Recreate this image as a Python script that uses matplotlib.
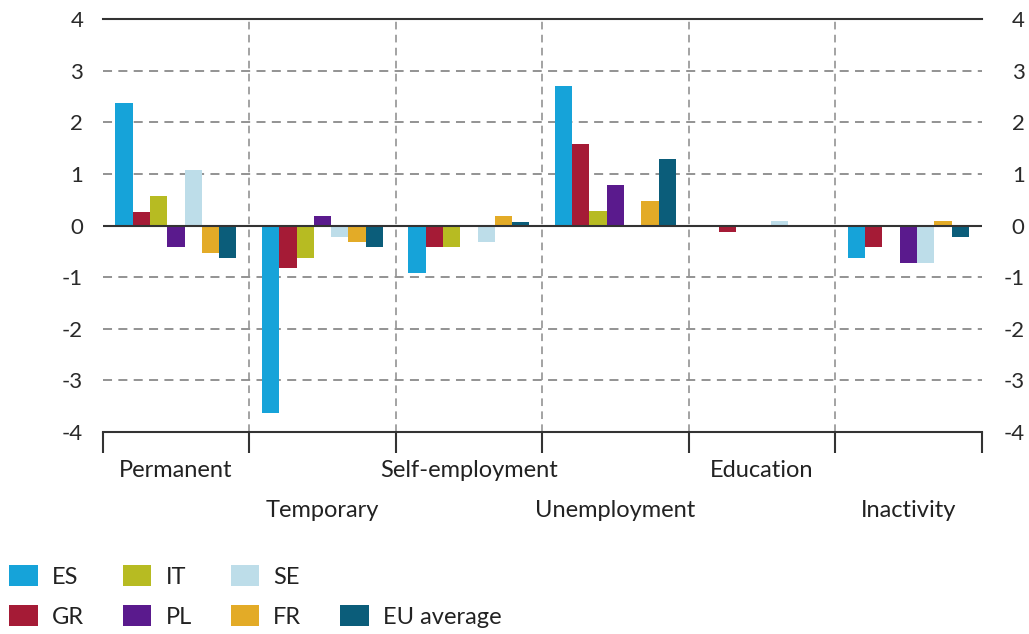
import numpy as np
import matplotlib
matplotlib.use("Agg")
import matplotlib.pyplot as plt
from matplotlib.patches import Rectangle

# categories and series
categories = ["Permanent", "Temporary", "Self-employment", "Unemployment", "Education", "Inactivity"]
series_names = ["ES", "GR", "IT", "PL", "SE", "FR", "EU average"]

es = [2.38, -3.64, -0.92, 2.70, 0.0, -0.63]
gr = [0.27, -0.83, -0.42, 1.58, -0.12, -0.42]
it = [0.58, -0.63, -0.42, 0.28, 0.0, 0.0]
pl = [-0.42, 0.18, 0.0, 0.78, 0.0, -0.72]
se = [1.07, -0.23, -0.32, 0.0, 0.08, -0.72]
fr = [-0.53, -0.32, 0.18, 0.48, 0.0, 0.08]
eu = [-0.63, -0.42, 0.07, 1.28, 0.0, -0.22]

colors = ["#16a3d9", "#a51b36", "#b7bb22", "#5a1a8d", "#bddde9", "#e3ab27", "#0b5d7a"]

plt.rcParams['font.family'] = ['Lato', 'DejaVu Sans']
plt.rcParams['axes.unicode_minus'] = False

fig = plt.figure(figsize=(10.29, 6.34), dpi=100)
ax = fig.add_axes([0.0998, 0.3186, 0.8542, 0.6514])

x = np.arange(len(categories))
w = 0.118
bars = []
for i, (vals, c, name) in enumerate(zip([es, gr, it, pl, se, fr, eu], colors, series_names)):
    b = ax.bar(x + (i - 3) * w, vals, width=w, color=c, label=name, zorder=3)
    bars.append(b)

ax.set_xlim(-0.5, len(categories) - 0.5)
ax.set_ylim(-4, 4)
ax.set_yticks(np.arange(-4, 5, 1))

# grid lines
for yv in [-3, -2, -1, 1, 2, 3]:
    ax.axhline(yv, color="#8a8a8a", lw=1.3, ls=(0, (5, 3.5)), zorder=1)
ax.axhline(0, color="#333333", lw=1.5, zorder=4)
for xv in np.arange(0.5, len(categories) - 0.5, 1):
    ax.axvline(xv, color="#8a8a8a", lw=1.1, ls=(0, (5, 3.5)), zorder=1)

for s in ["left", "right"]:
    ax.spines[s].set_visible(False)
ax.spines["top"].set_color("#333333")
ax.spines["top"].set_linewidth(1.5)
ax.spines["bottom"].set_color("#333333")
ax.spines["bottom"].set_linewidth(1.5)

# bottom ticks at group boundaries
ax.set_xticks(np.arange(-0.5, len(categories), 1))
ax.tick_params(axis="x", length=15, width=1.5, color="#333333", labelbottom=False)
ax.tick_params(axis="y", length=0, pad=14, labelsize=16, labelcolor="#2a2a2a")

# right-hand labels
ax2 = ax.twinx()
ax2.set_ylim(-4, 4)
ax2.set_yticks(np.arange(-4, 5, 1))
ax2.tick_params(axis="y", length=0, pad=31, labelsize=16, labelcolor="#2a2a2a")
plt.setp(ax2.get_yticklabels(), ha="right")
for s in ax2.spines.values():
    s.set_visible(False)

# category labels in two alternating rows
for i, cat in enumerate(categories):
    yrow = -0.092 if i % 2 == 0 else -0.189
    ax.text(i, yrow, cat, transform=ax.get_xaxis_transform(), ha="center", va="center",
            fontsize=17, color="#222222")

# legend
handles = [b for b in bars]
blank = Rectangle((0, 0), 1, 1, visible=False)
order = [handles[0], handles[1], handles[2], handles[3], handles[4], handles[5], blank, handles[6]]
labels = ["ES", "GR", "IT", "PL", "SE", "FR", "", "EU average"]
fig.legend(order, labels, ncol=4, loc="lower left", bbox_to_anchor=(0.0, -0.005),
           borderaxespad=0.0, borderpad=0.4,
           frameon=False, fontsize=17, handlelength=1.2, handleheight=0.95,
           handletextpad=0.6, columnspacing=1.65, labelspacing=0.75,
           labelcolor="#222222")

fig.savefig("out.png", dpi=100)
